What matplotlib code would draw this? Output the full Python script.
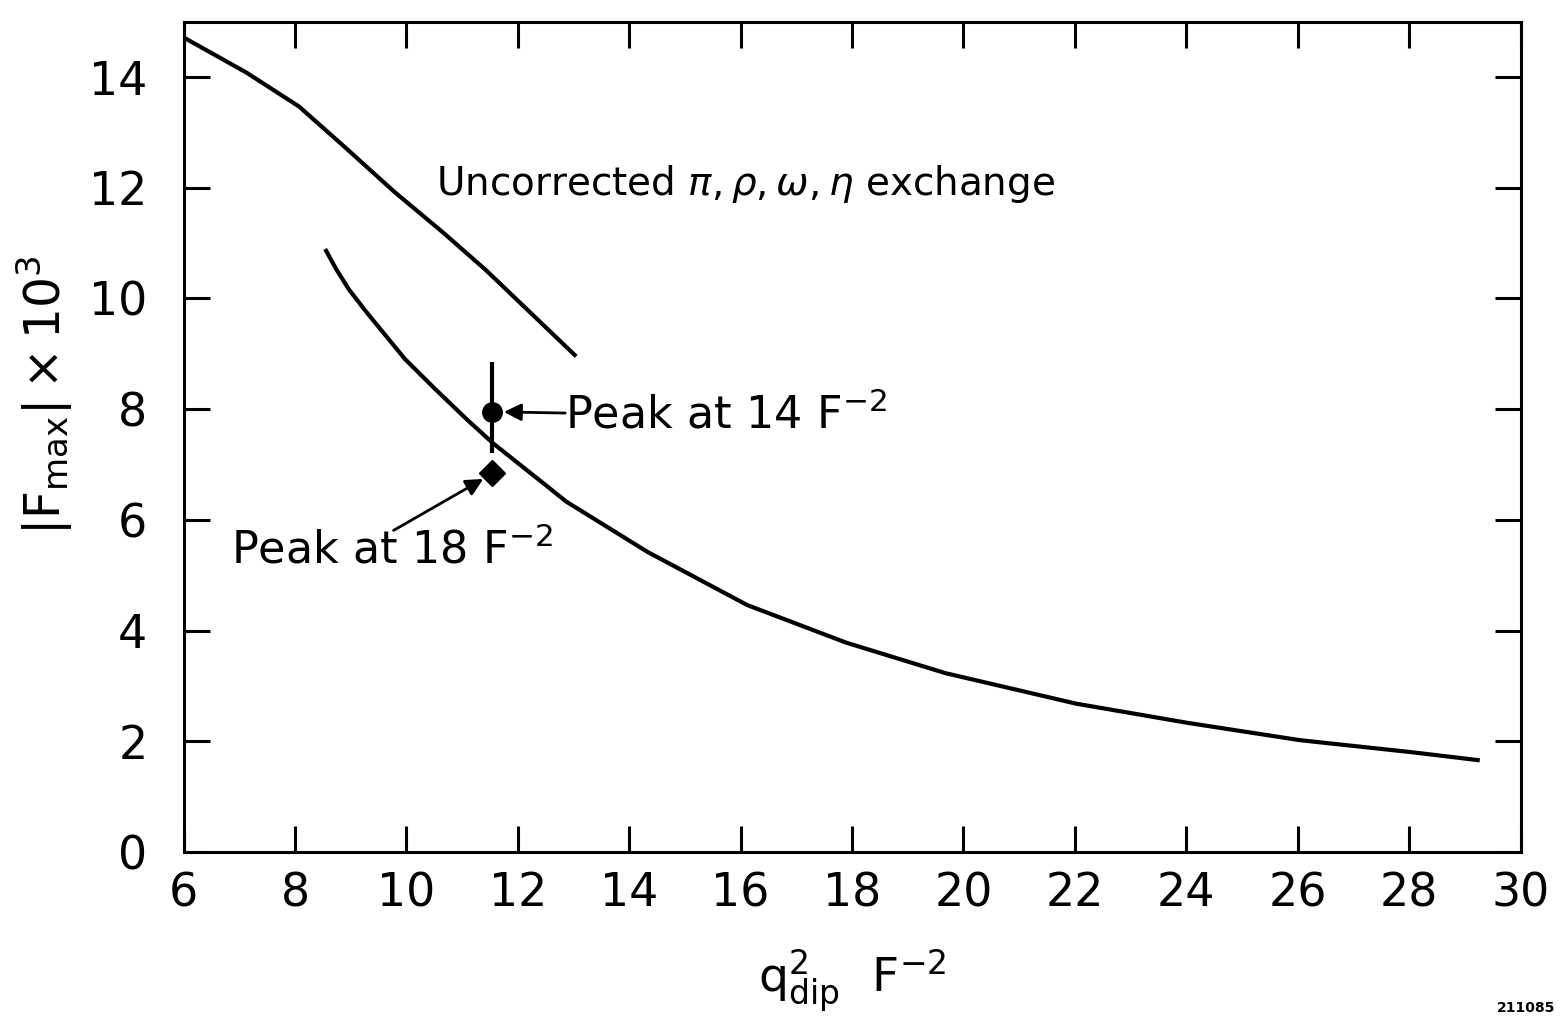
import numpy as np
import matplotlib
matplotlib.use("Agg")
import matplotlib.pyplot as plt

plt.rcParams["font.family"] = ["DejaVu Sans"]
plt.rcParams["mathtext.fontset"] = "dejavusans"

# Uncorrected pi, rho, omega, eta exchange curve
upper_x = [6.03, 7.13, 8.07, 8.90, 9.78, 10.66, 11.43, 13.02]
upper_y = [14.70, 14.08, 13.47, 12.73, 11.93, 11.19, 10.51, 8.98]

# lower curve
lower_x = [8.56, 8.74, 8.97, 9.27, 9.62, 9.97, 10.50, 11.09, 11.56, 12.56, 12.87, 14.33,
           16.12, 17.90, 19.68, 22.02, 24.04, 26.04, 28.07, 29.23]
lower_y = [10.86, 10.53, 10.16, 9.77, 9.34, 8.91, 8.38, 7.81, 7.38, 6.58, 6.33, 5.42,
           4.46, 3.78, 3.23, 2.68, 2.33, 2.02, 1.80, 1.66]

# measured peaks
peak14_x, peak14_y, peak14_lo, peak14_hi = 11.54, 7.95, 7.2, 8.85
peak18_x, peak18_y = 11.53, 6.85

xticks = np.arange(6, 31, 2)
yticks = np.arange(0, 15, 2)

fig = plt.figure(figsize=(15.61, 10.25), dpi=100)
ax = fig.add_axes([0.1176, 0.1688, 0.8565, 0.81])

ax.plot(upper_x, upper_y, color="black", lw=3)
ax.plot(lower_x, lower_y, color="black", lw=3)

ax.errorbar([peak14_x], [peak14_y],
            yerr=[[peak14_y - peak14_lo], [peak14_hi - peak14_y]],
            fmt="o", color="black", ms=14, elinewidth=3, capsize=0)
ax.plot([peak18_x], [peak18_y], marker="D", color="black", ms=13, ls="none")

ax.text(10.54, 12.06, r"Uncorrected $\pi, \rho, \omega, \eta$ exchange",
        fontsize=28, va="center", ha="left")

ax.text(12.85, 7.9, r"Peak at 14 F$^{-2}$", fontsize=32, va="center", ha="left")
ax.annotate("", xy=(11.75, peak14_y), xytext=(12.85, 7.93),
            arrowprops=dict(arrowstyle="-|>", color="black", lw=2,
                            mutation_scale=26, shrinkA=0, shrinkB=0))

ax.text(6.86, 5.45, r"Peak at 18 F$^{-2}$", fontsize=32, va="center", ha="left")
ax.annotate("", xy=(11.38, 6.74), xytext=(9.77, 5.81),
            arrowprops=dict(arrowstyle="-|>", color="black", lw=2,
                            mutation_scale=26, shrinkA=0, shrinkB=0))

ax.set_xlim(6, 30)
ax.set_ylim(0, 15)
ax.set_xticks(xticks)
ax.set_yticks(yticks)
ax.tick_params(direction="in", length=19, width=2.2, labelsize=33,
               top=True, right=True)
ax.tick_params(axis="x", pad=14)
ax.tick_params(axis="y", pad=26)
for sp in ax.spines.values():
    sp.set_linewidth(2.2)

ax.set_xlabel(r"$\mathrm{q}^{2}_{\mathrm{dip}}\ \ \mathrm{F}^{-2}$", fontsize=34, labelpad=22)
ax.set_ylabel(r"$|\mathrm{F}_{\mathrm{max}}|\times\mathrm{10}^{3}$", fontsize=35)
ax.yaxis.set_label_coords(-0.081, 0.55)

fig.text(0.996, 0.0166, "211085", fontsize=10, fontweight="bold", ha="right", va="center")

fig.savefig("out.png", dpi=100)
